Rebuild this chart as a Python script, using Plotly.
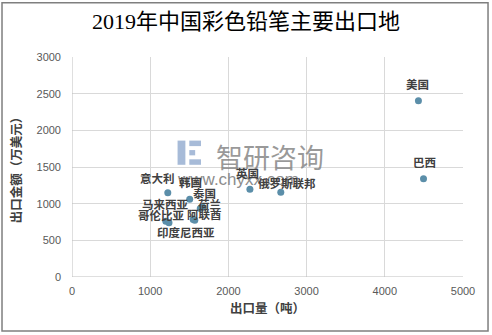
import plotly.graph_objects as go

# Export destinations of Chinese colored pencils, 2019
countries = ["美国", "巴西", "英国", "俄罗斯联邦", "意大利", "韩国", "泰国", "荷兰",
             "马来西亚", "哥伦比亚", "阿联酋", "印度尼西亚"]
volume_t = [4430, 4495, 2275, 2670, 1225, 1505, 1640, 1675, 1200, 1240, 1550, 1570]
value_wusd = [2405, 1340, 1195, 1155, 1150, 1060, 935, 950, 760, 740, 785, 775]

x_ticks = [0, 1000, 2000, 3000, 4000, 5000]
y_ticks = [0, 500, 1000, 1500, 2000, 2500, 3000]

# label offsets in pixels (dx, dy up) so crowded labels stay readable
label_shift = [(-1, 17), (1, 17), (-2, 16), (6, 9), (-10, 15), (1, 17), (4, 15), (7, 3),
               (0, 17), (-7, 8), (11, 5), (-9, -12)]

FONT_CJK = "Noto Sans CJK SC"
MARKER = "#5b8ea9"

fig = go.Figure()
fig.add_trace(go.Scatter(
    x=volume_t, y=value_wusd, mode="markers",
    marker=dict(color=MARKER, size=7),
    hoverinfo="text", text=countries, showlegend=False,
))

annotations = []

# watermark (drawn first so the data labels sit on top)
annotations.append(dict(
    x=0.5, y=0.55, xref="paper", yref="paper", text="智研咨询", showarrow=False,
    font=dict(family=FONT_CJK, size=27, color="rgba(120,120,120,0.75)"),
    xshift=2,
))
annotations.append(dict(
    x=0.5, y=0.445, xref="paper", yref="paper", text="www.chyxx.com", showarrow=False,
    font=dict(family="Liberation Sans", size=17, color="#8c8c8c"),
    xshift=-30,
))

for name, xv, yv, (dx, dy) in zip(countries, volume_t, value_wusd, label_shift):
    annotations.append(dict(
        x=xv, y=yv, xref="x", yref="y", text=f"<b>{name}</b>", showarrow=False,
        xshift=dx, yshift=dy, font=dict(family=FONT_CJK, size=11.5, color="#404040"),
    ))

shapes = [
    # chart border
    dict(type="rect", xref="paper", yref="paper", x0=-0.179, x1=1.064, y0=-0.246, y1=1.247,
         line=dict(color="#7f7f7f", width=1.5), fillcolor="rgba(0,0,0,0)", layer="below"),
    # watermark logo
    dict(type="rect", xref="paper", yref="paper", x0=0.27, x1=0.29, y0=0.51, y1=0.62,
         line=dict(width=0), fillcolor="rgba(120,150,195,0.65)"),
    dict(type="rect", xref="paper", yref="paper", x0=0.30, x1=0.33, y0=0.595, y1=0.62,
         line=dict(width=0), fillcolor="rgba(120,150,195,0.65)"),
    dict(type="rect", xref="paper", yref="paper", x0=0.30, x1=0.33, y0=0.51, y1=0.535,
         line=dict(width=0), fillcolor="rgba(120,150,195,0.65)"),
    dict(type="rect", xref="paper", yref="paper", x0=0.30, x1=0.315, y0=0.553, y1=0.577,
         line=dict(width=0), fillcolor="rgba(120,150,195,0.65)"),
]

axis_common = dict(
    showgrid=True, gridcolor="#d9d9d9", gridwidth=1,
    zeroline=False, showline=False, ticks="",
    tickfont=dict(family="Liberation Sans", size=11, color="#595959"),
)

fig.update_layout(
    width=492, height=335,
    margin=dict(l=72, r=29, t=57, b=58),
    paper_bgcolor="white", plot_bgcolor="white",
    title=dict(
        text="2019年中国彩色铅笔主要出口地",
        x=0.5, xanchor="center", y=0.935, yanchor="middle",
        font=dict(family="Liberation Serif, Noto Sans CJK SC", size=22, color="#000000"),
    ),
    xaxis=dict(
        range=[0, 5000], tickvals=x_ticks, ticktext=[str(v) for v in x_ticks],
        title=dict(text="<b>出口量（吨）</b>", standoff=8,
                   font=dict(family=FONT_CJK, size=12.5, color="#404040")),
        ticklabelstandoff=6,
        **axis_common,
    ),
    yaxis=dict(
        range=[0, 3000], tickvals=y_ticks, ticktext=[str(v) for v in y_ticks],
        title=dict(text="<b>出口金额（万美元）</b>", standoff=12,
                   font=dict(family=FONT_CJK, size=12.5, color="#404040")),
        ticklabelstandoff=10,
        **axis_common,
    ),
    annotations=annotations,
    shapes=shapes,
)

fig.add_shape(type="line", xref="x", yref="y", x0=0, x1=0, y0=0, y1=3000,
              line=dict(color="#bfbfbf", width=1))
fig.add_shape(type="line", xref="x", yref="y", x0=0, x1=5000, y0=0, y1=0,
              line=dict(color="#bfbfbf", width=1))

fig.write_html("out.html")
